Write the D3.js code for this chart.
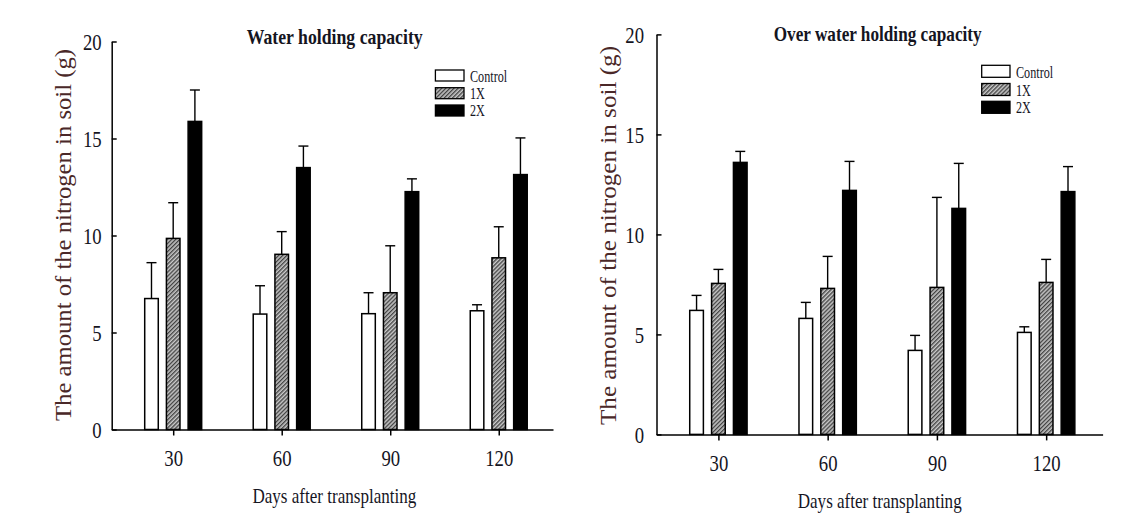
<!DOCTYPE html>
<html>
<head>
<meta charset="utf-8">
<script src="https://cdn.jsdelivr.net/npm/d3@7/dist/d3.min.js"></script>
<style>
  html, body { margin: 0; padding: 0; background: #fff; }
  svg { display: block; font-family: "Liberation Serif", "Times New Roman", serif; }
</style>
</head>
<body>
<svg id="chart" width="1123" height="531"></svg>
<script>
// ---------- DATA ----------
const days = [30, 60, 90, 120];
const seriesNames = ["Control", "1X", "2X"];
const yTicks = [0, 5, 10, 15, 20];

// Water holding capacity (means, upper error)
const whcControl = [6.75, 5.95, 5.97, 6.12];
const whcControlErr = [1.85, 1.46, 1.08, 0.31];
const whc1X = [9.85, 9.03, 7.05, 8.85];
const whc1XErr = [1.84, 1.17, 2.42, 1.60];
const whc2X = [15.88, 13.50, 12.26, 13.14];
const whc2XErr = [1.62, 1.11, 0.66, 1.89];

// Over water holding capacity
const owcControl = [6.20, 5.80, 4.20, 5.10];
const owcControlErr = [0.75, 0.80, 0.75, 0.28];
const owc1X = [7.55, 7.30, 7.35, 7.60];
const owc1XErr = [0.70, 1.60, 4.50, 1.15];
const owc2X = [13.60, 12.20, 11.30, 12.14];
const owc2XErr = [0.55, 1.45, 2.25, 1.25];

const titles = ["Water holding capacity", "Over water holding capacity"];
const yLabel = "The amount of the nitrogen in soil (g)";
const xLabel = "Days after transplanting";

// ---------- LAYOUT ----------
const svg = d3.select("#chart");
const defs = svg.append("defs");
const pat = defs.append("pattern")
  .attr("id", "hatch").attr("patternUnits", "userSpaceOnUse")
  .attr("width", 2.9).attr("height", 10)
  .attr("patternTransform", "rotate(45)");
pat.append("rect").attr("width", 2.9).attr("height", 10).attr("fill", "#c8c8c8");
pat.append("line").attr("x1", 0.7).attr("x2", 0.7).attr("y1", 0).attr("y2", 10)
  .attr("stroke", "#333").attr("stroke-width", 1.2);

const fills = ["#ffffff", "url(#hatch)", "#000000"];
const offsets = [-6, 0, 6];
const barW = 3.75;
const TXT = "#15151f";

const panels = [
  {
    means: [whcControl, whc1X, whc2X], errs: [whcControlErr, whc1XErr, whc2XErr],
    xr: [111.7, 553], yr: [429.5, 41.5], dom: [13, 135],
    title: titles[0], titleX: 334.7, titleY: 44.3, titleLen: 176,
    yTitleX: 71, yTitleY: 235, yTitleLen: 372,
    xTitleX: 334.4, xTitleY: 503,
    yLabGap: 10, xLabY: 37,
    leg: { x: 435.4, ys: [70, 87.7, 105], w: 28.6, h: 11, tx: 470, tb: [81.5, 98.5, 116] }
  },
  {
    means: [owcControl, owc1X, owc2X], errs: [owcControlErr, owc1XErr, owc2XErr],
    xr: [656.5, 1102.6], yr: [434.4, 34.4], dom: [13, 135.5],
    title: titles[1], titleX: 877.7, titleY: 41.3, titleLen: 208,
    yTitleX: 616, yTitleY: 235.5, yTitleLen: 379,
    xTitleX: 879.7, xTitleY: 508,
    yLabGap: 12.5, xLabY: 36.5,
    leg: { x: 981.7, ys: [65.3, 83.5, 101.3], w: 28.3, h: 12, tx: 1016, tb: [77.5, 95.5, 113] }
  }
];

panels.forEach(p => {
  const x = d3.scaleLinear().domain(p.dom).range(p.xr);
  const y = d3.scaleLinear().domain([0, 20]).range(p.yr);
  const g = svg.append("g");

  // bars + error bars
  p.means.forEach((vals, si) => {
    vals.forEach((v, i) => {
      const c = days[i] + offsets[si];
      const x0 = x(c - barW / 2), x1 = x(c + barW / 2);
      const top = p.means[si][i] + p.errs[si][i];
      g.append("line").attr("x1", x(c)).attr("x2", x(c))
        .attr("y1", y(v)).attr("y2", y(top))
        .attr("stroke", "#000").attr("stroke-width", 1.4);
      g.append("line").attr("x1", x(c) - 5).attr("x2", x(c) + 5)
        .attr("y1", y(top)).attr("y2", y(top))
        .attr("stroke", "#000").attr("stroke-width", 1.4);
      g.append("rect")
        .attr("x", x0).attr("y", y(v))
        .attr("width", x1 - x0).attr("height", y(0) - y(v))
        .attr("fill", fills[si]).attr("stroke", "#000").attr("stroke-width", 1.5);
    });
  });

  // y axis (ticks inward)
  const ya = g.append("g").attr("transform", `translate(${p.xr[0]},0)`)
    .call(d3.axisLeft(y).tickValues(yTicks).tickSizeInner(-5).tickSizeOuter(0).tickPadding(p.yLabGap));
  ya.select(".domain").attr("stroke", "#000").attr("stroke-width", 1.5);
  ya.selectAll(".tick line").attr("stroke", "#000").attr("stroke-width", 1.5);
  ya.selectAll(".tick text")
    .attr("x", -p.yLabGap / 0.78).attr("dy", "0.32em")
    .attr("transform", "scale(0.78,1)")
    .attr("fill", TXT).style("font-size", "24px").style("font-family", "Liberation Serif");

  // x axis
  const xa = g.append("g").attr("transform", `translate(0,${p.yr[0]})`)
    .call(d3.axisBottom(x).tickValues(days).tickSizeInner(6).tickSizeOuter(0));
  xa.select(".domain").attr("stroke", "#000").attr("stroke-width", 1.5);
  xa.selectAll(".tick line").attr("stroke", "#000").attr("stroke-width", 1.5);
  xa.selectAll(".tick text")
    .attr("y", p.xLabY).attr("dy", 0)
    .attr("transform", "scale(0.78,1)")
    .attr("fill", TXT).style("font-size", "24px").style("font-family", "Liberation Serif");

  // title
  g.append("text").attr("x", p.titleX).attr("y", p.titleY)
    .attr("text-anchor", "middle").attr("font-weight", "bold")
    .attr("font-size", 21).attr("fill", TXT)
    .attr("textLength", p.titleLen).attr("lengthAdjust", "spacingAndGlyphs")
    .text(p.title);

  // y title
  g.append("text")
    .attr("transform", `translate(${p.yTitleX},${p.yTitleY}) rotate(-90)`)
    .attr("text-anchor", "middle").attr("font-size", 24).attr("fill", "#4a2828")
    .attr("textLength", p.yTitleLen).attr("lengthAdjust", "spacingAndGlyphs")
    .text(yLabel);

  // x title
  g.append("text").attr("x", p.xTitleX).attr("y", p.xTitleY)
    .attr("text-anchor", "middle").attr("font-size", 22).attr("fill", TXT)
    .attr("textLength", 164).attr("lengthAdjust", "spacingAndGlyphs")
    .text(xLabel);

  // legend
  seriesNames.forEach((s, si) => {
    g.append("rect").attr("x", p.leg.x).attr("y", p.leg.ys[si])
      .attr("width", p.leg.w).attr("height", p.leg.h)
      .attr("fill", fills[si]).attr("stroke", "#000").attr("stroke-width", 1.3);
    g.append("text")
      .attr("transform", `translate(${p.leg.tx},${p.leg.tb[si]}) scale(0.76,1)`)
      .attr("font-size", 16).attr("fill", TXT).text(s);
  });
});
</script>
</body>
</html>
